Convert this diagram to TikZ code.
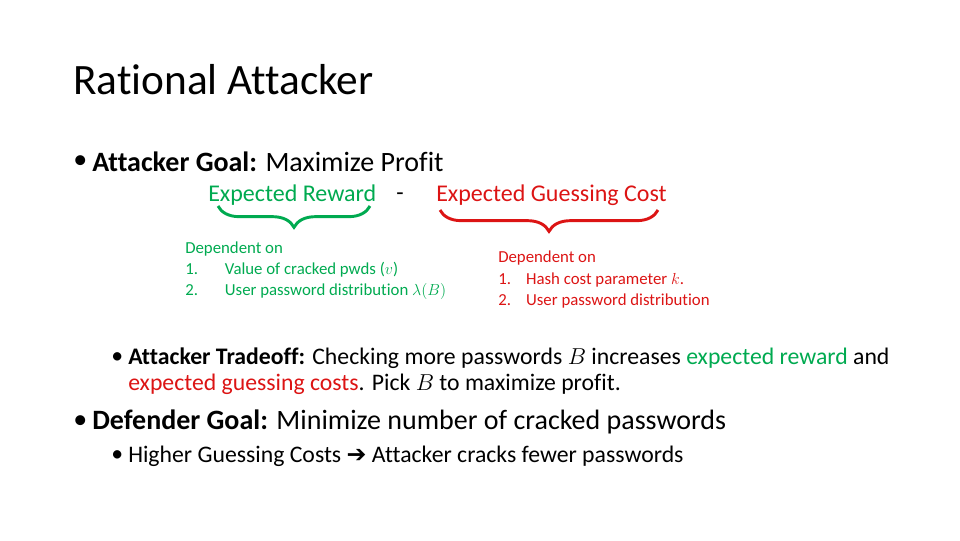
\documentclass[tikz,border=0pt]{standalone}
\usepackage{fontspec}
\setmainfont{Carlito}[Ligatures={NoCommon,NoDiscretionary}]
\usetikzlibrary{decorations.pathreplacing}
\definecolor{gr}{RGB}{0,170,80}
\definecolor{rd}{RGB}{220,20,20}
\tikzset{
 txt/.style={anchor=west,inner sep=0pt,font=\fontsize{21}{24}\selectfont},
 mid/.style={anchor=west,inner sep=0pt,font=\fontsize{18}{20}\selectfont},
 sub/.style={anchor=west,inner sep=0pt,font=\fontsize{17.8}{20}\selectfont},
 sm/.style={anchor=west,inner sep=0pt,font=\fontsize{12.6}{14}\selectfont},
 br/.style={decorate,decoration={brace,mirror,amplitude=16pt},line width=2.2pt}
}
\begin{document}
\begin{tikzpicture}[x=0.75pt,y=-0.75pt]
\useasboundingbox (0,0) rectangle (960,540);
\node[anchor=west,inner sep=0pt,font=\fontsize{32.5}{36}\selectfont] (title) at (73,80) {Rational Attacker};
\node[txt] (b1) at (73,162) {\textbullet};
\node[txt] (t1) at (92,162) {\textbf{Attacker Goal:} Maximize Profit};
\node[mid,text=gr] (er) at (208,195) {Expected Reward};
\node[mid] (minus) at (396,197) {-};
\node[mid,text=rd] (ec) at (436,195) {Expected Guessing Cost};
\coordinate (g1) at (218,206); \coordinate (g2) at (370,206);
\coordinate (r1) at (440,210); \coordinate (r2) at (658,210);
\draw[br,gr] (g1) -- (g2);
\draw[br,rd] (r1) -- (r2);
\node[sm,text=gr] (d1) at (185,249) {Dependent on};
\node[sm,text=gr] (d2) at (185,270) {1.\hspace{1.6em}Value of cracked pwds ($v$)};
\node[sm,text=gr] (d3) at (185,291) {2.\hspace{1.6em}User password distribution $\lambda(B)$};
\node[sm,text=rd] (e1) at (498,258) {Dependent on};
\node[sm,text=rd] (e2) at (498,280) {1.\hspace{0.9em}Hash cost parameter $k$.};
\node[sm,text=rd] (e3) at (498,301) {2.\hspace{0.9em}User password distribution};
\node[sub] (b2) at (111,358) {\textbullet};
\node[sub] (t2) at (128,358) {\textbf{Attacker Tradeoff:} Checking more passwords $B$ increases \textcolor{gr}{expected reward} and};
\node[sub] (t2b) at (128,384) {\textcolor{rd}{expected guessing costs}. Pick $B$ to maximize profit.};
\node[txt] (b3) at (73,422) {\textbullet};
\node[txt] (t3) at (92,422) {\textbf{Defender Goal:} Minimize number of cracked passwords};
\node[sub] (b4) at (111,456) {\textbullet};
\node[sub] (t4) at (128,456) {Higher Guessing Costs {\fontspec{DejaVu Sans}\bfseries ➔} Attacker cracks fewer passwords};
\end{tikzpicture}
\end{document}
